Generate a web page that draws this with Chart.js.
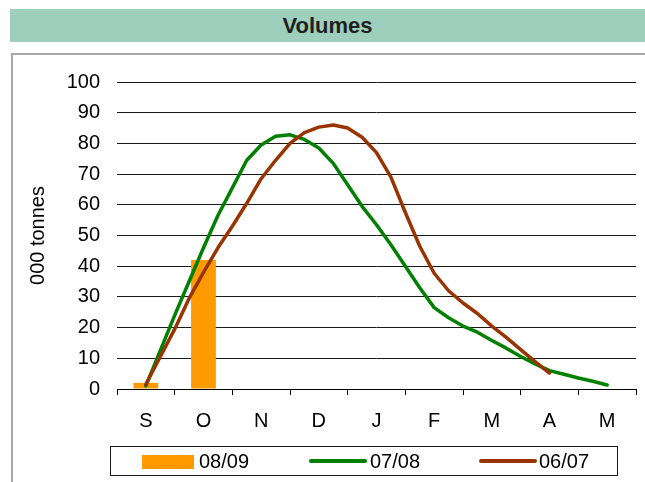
<!DOCTYPE html>
<html>
<head>
<meta charset="utf-8">
<script src="https://cdn.jsdelivr.net/npm/chart.js@4"></script>
<style>
  html, body { margin: 0; padding: 0; background: #fff; }
  body { width: 645px; height: 482px; position: relative; overflow: hidden; }
  #head {
    position: absolute; left: 10px; top: 9px; width: 635px; height: 33px;
    background: #9ecfbd; color: #1f1f1f;
    font: bold 22px "Liberation Sans", Arial, sans-serif;
    line-height: 33px; text-align: center;
  }
  #frame {
    position: absolute; left: 11px; top: 53px; width: 640px; height: 440px;
    border-left: 2px solid #a8a8a8; border-top: 2px solid #a8a8a8;
  }
  #wrap { position: absolute; left: 0; top: 0; width: 645px; height: 482px; }
</style>
</head>
<body>
<div id="head">Volumes</div>
<div id="frame"></div>
<div id="wrap"><canvas id="c" width="645" height="482"></canvas></div>
<script>
// Months of the season
const months = ['S', 'O', 'N', 'D', 'J', 'F', 'M', 'A', 'M'];

// 08/09 season, monthly volumes (000 tonnes)
const vol0809 = [2, 42, null, null, null, null, null, null, null];

// Quarter-month positions (0 = September) for the two earlier seasons
const pos0708 = [0, 0.25, 0.5, 0.75, 1, 1.25, 1.5, 1.75, 2, 2.25, 2.5, 2.75, 3, 3.25, 3.5, 3.75,
                 4, 4.25, 4.5, 4.75, 5, 5.25, 5.5, 5.75, 6, 6.25, 6.5, 6.75, 7, 7.25, 7.5, 7.75, 8];
const vol0708 = [1, 12.5, 24, 35, 46, 56.5, 65.5, 74.5, 79.5, 82.3, 82.8, 81.3, 78.5, 73.5, 66.5, 59.5,
                 53.5, 47, 40, 33, 26.5, 23.2, 20.5, 18.5, 15.8, 13.3, 10.6, 8.2, 6.0, 4.8, 3.6, 2.5, 1.3];

const pos0607 = [0, 0.25, 0.5, 0.75, 1, 1.25, 1.5, 1.75, 2, 2.25, 2.5, 2.75, 3, 3.25, 3.5, 3.75,
                 4, 4.25, 4.5, 4.75, 5, 5.25, 5.5, 5.75, 6, 6.25, 6.5, 6.75, 7];
const vol0607 = [1.5, 10.5, 19.5, 29.5, 38, 46, 53, 60.5, 68.5, 74.5, 80, 83.5, 85.3, 86, 85, 82,
                 77, 69, 57.5, 46.5, 37.7, 32, 28, 24.6, 20.5, 16.8, 12.8, 8.9, 5.2];

// y axis range and step
const yMin = 0, yMax = 100, yStep = 10;

const FONT = '"Liberation Sans", Arial, sans-serif';
const toXY = (xs, ys) => xs.map((x, i) => ({ x: x, y: ys[i] }));

// Legend drawn in a framed strip under the axis
const boxedLegend = {
  id: 'boxedLegend',
  afterDraw(chart) {
    const ctx = chart.ctx;
    const ds = chart.data.datasets;
    ctx.save();
    ctx.strokeStyle = '#1a1a1a';
    ctx.lineWidth = 1;
    ctx.strokeRect(110.5, 446.5, 507, 29);
    ctx.font = '20px ' + FONT;
    ctx.fillStyle = '#000';
    ctx.textBaseline = 'middle';
    const items = [
      { ds: ds[0], x0: 142, x1: 194, tx: 199 },
      { ds: ds[1], x0: 311, x1: 365, tx: 370 },
      { ds: ds[2], x0: 481, x1: 535, tx: 539 }
    ];
    items.forEach(it => {
      if (it.ds.type === 'bar') {
        ctx.fillStyle = it.ds.backgroundColor;
        ctx.fillRect(it.x0, 455, it.x1 - it.x0, 14);
      } else {
        ctx.strokeStyle = it.ds.borderColor;
        ctx.lineWidth = 4;
        ctx.lineCap = 'round';
        ctx.beginPath();
        ctx.moveTo(it.x0, 461);
        ctx.lineTo(it.x1, 461);
        ctx.stroke();
      }
      ctx.fillStyle = '#000';
      ctx.textAlign = 'left';
      ctx.fillText(it.ds.label, it.tx, 462);
    });
    ctx.restore();
  }
};

new Chart(document.getElementById('c'), {
  data: {
    labels: months,
    datasets: [
      {
        type: 'bar', label: '08/09', data: vol0809,
        backgroundColor: '#ff9a00', borderWidth: 0,
        xAxisID: 'x', yAxisID: 'y', grouped: false,
        categoryPercentage: 1.0, barPercentage: 0.43, order: 10
      },
      {
        type: 'line', label: '07/08', data: toXY(pos0708, vol0708),
        borderColor: '#008000', borderWidth: 3.5, pointRadius: 0, tension: 0,
        fill: false, xAxisID: 'xl', yAxisID: 'y', order: 2,
        borderCapStyle: 'round', borderJoinStyle: 'round'
      },
      {
        type: 'line', label: '06/07', data: toXY(pos0607, vol0607),
        borderColor: '#993300', borderWidth: 3.5, pointRadius: 0, tension: 0,
        fill: false, xAxisID: 'xl', yAxisID: 'y', order: 1,
        borderCapStyle: 'round', borderJoinStyle: 'round'
      }
    ]
  },
  options: {
    responsive: false,
    animation: false,
    layout: { padding: { left: 0, top: 82, right: 9, bottom: 0 } },
    plugins: {
      legend: { display: false },
      tooltip: { enabled: false },
      title: { display: false }
    },
    scales: {
      x: {
        type: 'category',
        position: 'bottom',
        offset: true,
        grid: {
          display: true, drawOnChartArea: false, drawTicks: true,
          tickLength: 6, offset: true, color: '#000', lineWidth: 1
        },
        border: { display: true, color: '#000', width: 1 },
        ticks: { color: '#000', font: { size: 20, family: FONT }, padding: 14, maxRotation: 0 },
        afterFit(scale) { scale.height = 93; }
      },
      xl: {
        type: 'linear',
        display: false,
        min: -0.5,
        max: 8.5
      },
      y: {
        type: 'linear',
        min: yMin, max: yMax,
        ticks: {
          stepSize: yStep, color: '#000', padding: 17,
          font: { size: 20, family: FONT }
        },
        grid: { color: '#1a1a1a', lineWidth: 1, drawTicks: false },
        border: { display: false },
        title: {
          display: true, text: '000 tonnes', color: '#000',
          font: { size: 20, family: FONT }, padding: { top: 26, bottom: 0 }
        },
        afterFit(scale) { scale.width = 117; }
      }
    }
  },
  plugins: [boxedLegend]
});
</script>
</body>
</html>
